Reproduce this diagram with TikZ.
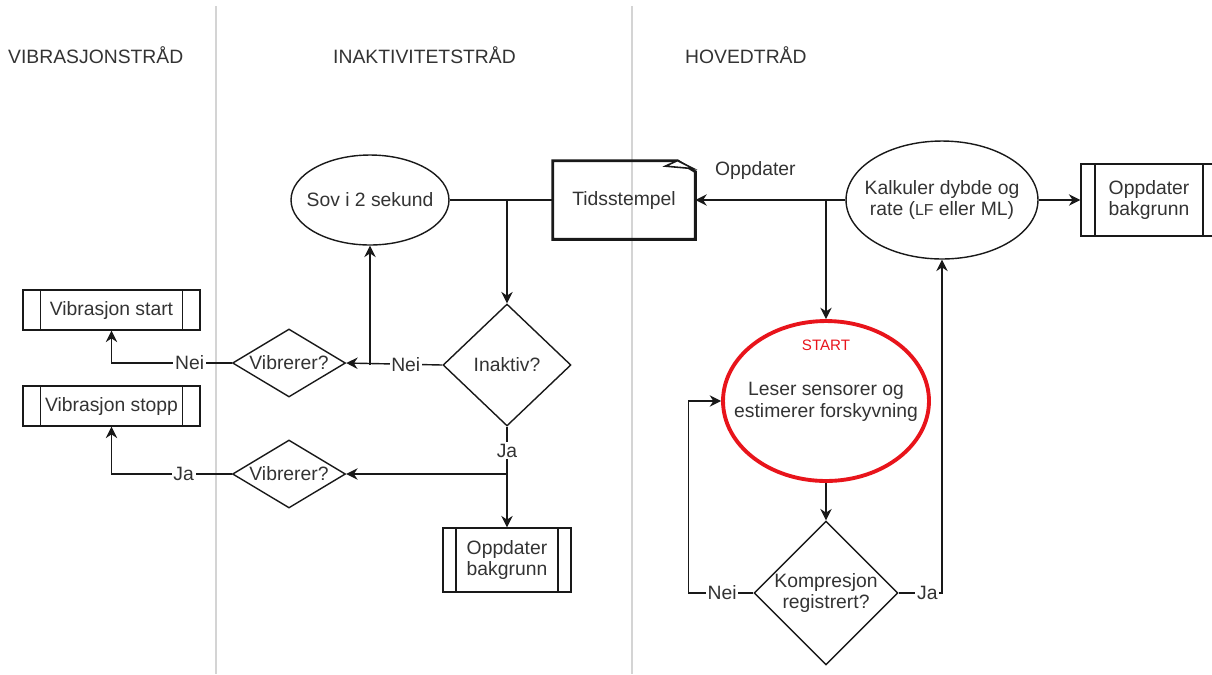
\documentclass[tikz,border=0pt]{standalone}
\usepackage{fontspec}
\setmainfont{Liberation Sans}
\usepackage{tikz}
\usetikzlibrary{shapes.geometric,arrows.meta}
\definecolor{lane}{HTML}{D4D4D4}
\definecolor{txtgray}{HTML}{333333}
\definecolor{startred}{HTML}{E8141B}

\begin{document}
\begin{tikzpicture}[x=0.02cm, y=-0.02cm,
	every node/.style={font=\fontsize{11}{12.5}\selectfont, text=txtgray},
	line/.style={draw=black!90, line width=0.8pt},
	arr/.style={line, -{Stealth[length=6.5pt,width=6.5pt]}},
	oval/.style={draw=black!90, line width=0.8pt, ellipse, inner sep=0pt},
	valg/.style={draw=black!90, line width=0.8pt, diamond, inner sep=0pt, align=center},
	proc/.style={draw=black!90, line width=0.8pt, rectangle, align=center, path picture={
		\draw[black!90, line width=0.8pt] ([xshift=#1]path picture bounding box.north west) -- ([xshift=#1]path picture bounding box.south west)
		([xshift=-#1]path picture bounding box.north east) -- ([xshift=-#1]path picture bounding box.south east);}},
	svar/.style={fill=white, inner sep=1pt},
	hode/.style={anchor=west}]
	\useasboundingbox (0,0) rectangle (1212,674);
	% lanes
	\draw[lane, line width=1pt] (216,6) -- (216,674);
	\draw[lane, line width=1pt] (632,6) -- (632,674);
	\node[hode] (hvib) at (2,55) {VIBRASJONSTRÅD};
	\node[hode] (hina) at (327,55) {INAKTIVITETSTRÅD};
	\node[hode] (hhoved) at (679,55) {HOVEDTRÅD};

	% inaktivitet
	\node[oval, minimum width=3.16cm, minimum height=1.8cm] (sov) at (370,200) {};
	\node (sovtekst) at (sov) {Sov i 2 sekund};
	\node[minimum width=2.84cm, minimum height=1.56cm, inner sep=0pt] (tid) at (624,200) {Tidsstempel};
	\draw[line width=1.6pt, black!90, line join=miter] (tid.north west) -- ([xshift=-0.36cm]tid.north east) -- ([yshift=-0.22cm]tid.north east) -- (tid.south east) -- (tid.south west) -- cycle;
	\draw[line width=0.9pt, black!90, fill=white] ([xshift=-0.36cm]tid.north east) -- ([xshift=-0.04cm,yshift=-0.16cm]tid.north east) -- ([xshift=-0.6cm,yshift=-0.11cm]tid.north east) -- cycle;
	\node[valg, minimum width=2.56cm, minimum height=2.44cm] (ina) at (507,365) {Inaktiv?};
	\node[proc=7.4pt, minimum width=2.56cm, minimum height=1.28cm] (obm) at (507,560) {Oppdater\\bakgrunn};

	% vibrasjon
	\node[valg, shape aspect=1.66, minimum width=2.26cm, minimum height=1.36cm] (vib1) at (289,363) {Vibrerer?};
	\node[valg, shape aspect=1.66, minimum width=2.26cm, minimum height=1.36cm] (vib2) at (289,474) {Vibrerer?};
	\node[proc=10pt, minimum width=3.54cm, minimum height=0.8cm] (vstart) at (111.5,310) {Vibrasjon start};
	\node[proc=10pt, minimum width=3.54cm, minimum height=0.8cm] (vstop) at (111.5,406) {Vibrasjon stopp};

	% hovedtraad
	\node[oval, minimum width=3.84cm, minimum height=2.36cm] (kal) at (942,200) {};
	\node[align=center] (kaltekst) at (kal) {Kalkuler dybde og\\rate ({\fontsize{9}{10}\selectfont LF} eller ML)};
	\node[proc=7.9pt, minimum width=2.72cm, minimum height=1.44cm] (obr) at (1149,200) {Oppdater\\bakgrunn};
	\node[draw=startred, line width=2.2pt, ellipse, minimum width=4.12cm, minimum height=3.2cm, inner sep=0pt] (start) at (826,401) {};
	\node[text=startred, font=\fontsize{8.6}{10}\selectfont] (startmerke) at (826,345) {START};
	\node[align=center] (starttekst) at (826,402) {Leser sensorer og\\estimerer forskyvning};
	\node[valg, minimum width=2.88cm, minimum height=2.88cm] (komp) at (826,593) {Kompresjon\\registrert?};

	% piler
	\draw[line] (sov.east) -- (tid.west);
	\draw[arr] (sov.east -| ina.north) -- (ina.north);
	\draw[arr] (kal.west) -- node[pos=0.6, yshift=17pt] (oppd) {Oppdater} (tid.east);
	\draw[arr] (kal.west -| start.north) -- (start.north);
	\draw[arr] (kal.east) -- (obr.west);
	\draw[arr] (ina.west) -- node[svar, pos=0.38] (nei1) {Nei} (vib1.east);
	\draw[arr] (ina.west -| sov.south) -- (sov.south);
	\draw[arr] (vib1.west) -| node[svar, pos=0.175] (nei2) {Nei} (vstart.south);
	\draw[arr] (vib2.west) -| node[svar, pos=0.2] (ja2) {Ja} (vstop.south);
	\draw[arr] (ina.south) -- node[svar, pos=0.24] (ja1) {Ja} (obm.north);
	\draw[arr] (ina.south |- vib2.east) -- (vib2.east);
	\draw[arr] (start.south) -- (komp.north);
	\draw[arr] (komp.west) -- node[svar, pos=0.48] (nei3) {Nei} ++(-65,0) |- (start.west);
	\draw[arr] (komp.east) -| node[svar, pos=0.33] (ja3) {Ja} (kal.south);
\end{tikzpicture}
\end{document}
